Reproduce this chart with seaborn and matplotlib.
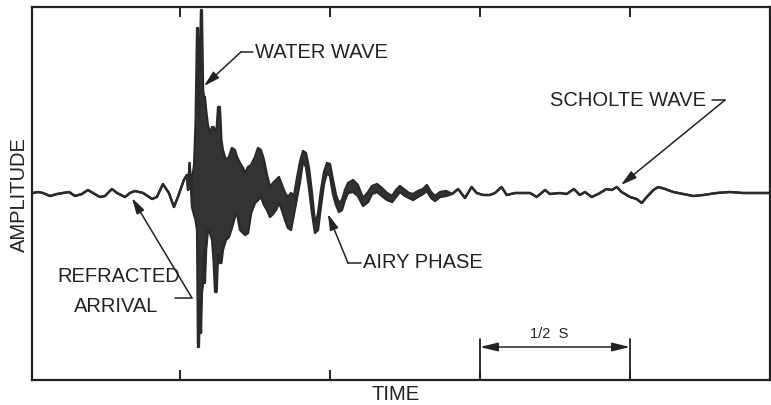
import matplotlib
matplotlib.use("Agg")
import matplotlib.pyplot as plt
import pandas as pd
import seaborn as sns
from matplotlib import font_manager

# Seismogram trace: time in seconds, amplitude in arbitrary trace units.
# Quiet lead-in before the arrivals (single line).
quiet_t = [0.010, 0.027, 0.043, 0.067, 0.090, 0.110, 0.130, 0.150, 0.173, 0.193,
           0.210, 0.233, 0.250, 0.273, 0.290, 0.317, 0.333, 0.350, 0.377, 0.407,
           0.423, 0.443, 0.463, 0.480, 0.493, 0.513, 0.523, 0.527, 0.532, 0.537]
quiet_amp = [-1, 0, -1, -4, -2, -1, 0, -4, -2, 2,
             -1, -5, -4, 3, -1, -5, -1, 1, -1, -7,
             -5, 8, -1, -15, -5, 12, 17, 2, 29, 2]

# Water wave and Airy phase: the record is a dense band, given as its
# upper and lower envelopes.
burst_t = [0.540, 0.547, 0.552, 0.557, 0.560, 0.563, 0.567, 0.570, 0.573, 0.577,
           0.580, 0.583, 0.587, 0.593, 0.600, 0.607, 0.612, 0.617, 0.622, 0.627,
           0.633, 0.638, 0.643, 0.653, 0.663, 0.673, 0.683, 0.690, 0.700, 0.710,
           0.717, 0.727, 0.737, 0.750, 0.760, 0.770, 0.780, 0.790, 0.800, 0.810,
           0.820, 0.830, 0.840, 0.850, 0.860, 0.870, 0.880, 0.890, 0.900, 0.910,
           0.920, 0.930, 0.940, 0.950, 0.960, 0.970, 0.980, 0.990, 1.000, 1.010,
           1.020, 1.030, 1.040, 1.050, 1.060, 1.077, 1.093, 1.110, 1.127, 1.140,
           1.157, 1.173, 1.190, 1.207, 1.220, 1.233, 1.250, 1.263, 1.277, 1.293,
           1.310, 1.323, 1.337, 1.350, 1.367, 1.387]
burst_hi = [12, 27, 69, 164, 164, 72, 132, 182, 182, 102,
            95, 95, 82, 67, 59, 65, 65, 62, 62, 85,
            85, 52, 42, 32, 35, 44, 42, 35, 29, 24,
            19, 25, 27, 35, 44, 42, 32, 17, 5, 9,
            12, 15, 7, -1, -5, -1, -4, 14, 30, 41,
            39, 24, -1, -31, -22, 2, 20, 29, 28, 12,
            -3, -11, -8, 2, 9, 12, 7, -6, 0, 6,
            8, 4, -1, -4, 2, 6, 2, -1, -2, 1,
            3, 7, 0, -4, 0, 1]
burst_lo = [-15, -23, -28, -38, -155, -155, -108, -141, -101, -91,
            -58, -91, -58, -38, -41, -48, -68, -100, -100, -63,
            -71, -71, -58, -48, -45, -36, -25, -21, -38, -41,
            -43, -41, -21, -11, -8, -5, -13, -18, -25, -22,
            -18, -11, -18, -28, -36, -38, -22, -6, 10, 31,
            25, 4, -21, -41, -38, -14, 8, 19, 16, -2,
            -13, -20, -18, -8, -1, 0, -4, -14, -10, -2,
            0, -4, -8, -10, -5, 0, -4, -6, -8, -5,
            -2, 1, -6, -9, -5, -4]

# Coda and Scholte wave (single line).
coda_t = [1.407, 1.427, 1.450, 1.472, 1.489, 1.510, 1.533, 1.550, 1.572, 1.589,
          1.617, 1.644, 1.667, 1.689, 1.717, 1.733, 1.767, 1.789, 1.813, 1.833,
          1.850, 1.872, 1.894, 1.922, 1.939, 1.956, 1.972, 2.000, 2.022, 2.039,
          2.056, 2.078, 2.094, 2.117, 2.144, 2.178, 2.211, 2.244, 2.289, 2.333,
          2.378, 2.422, 2.467]
coda_amp = [-2, 3, -6, 5, -1, -3, -3, -1, 5, -3,
            -1, -1, -1, -5, 2, -2, -1, -2, 3, -3,
            0, -5, -2, 3, 2, 5, 0, -5, -7, -11,
            -5, 2, 5, 3, 0, -2, -4, -3, -1, 0,
            -1, -1, -1]

tick_times = [0.5, 1.0, 1.5, 2.0]
half_second = (1.5, 2.0)

time = quiet_t + burst_t + coda_t
upper = quiet_amp + burst_hi + coda_amp
lower = quiet_amp + burst_lo + coda_amp
trace = pd.DataFrame({"time": time, "upper": upper, "lower": lower})

sns.set_theme(style="white")
installed = {f.name for f in font_manager.fontManager.ttflist}
main_font = "Liberation Sans" if "Liberation Sans" in installed else "DejaVu Sans"
plt.rcParams["font.family"] = [main_font, "DejaVu Sans"]

ink = "#222222"
W, H = 771, 405
fig = plt.figure(figsize=(W / 100, H / 100), dpi=100)
fig.patch.set_facecolor("white")
ax = fig.add_axes([32 / W, 25 / H, 738 / W, 373 / H])
ax.set_facecolor("white")

ax.fill_between(trace["time"], trace["lower"], trace["upper"],
                color="#333333", linewidth=0)
sns.lineplot(data=trace, x="time", y="upper", ax=ax, color="#2a2a2a",
             linewidth=1.7, sort=False, estimator=None)
sns.lineplot(data=trace, x="time", y="lower", ax=ax, color="#2a2a2a",
             linewidth=1.7, sort=False, estimator=None)

ax.set_xlim(0.0067, 2.4667)
ax.set_ylim(-188, 185)
ax.set_xticks(tick_times)
ax.set_yticks([])
ax.tick_params(axis="x", which="both", direction="in", length=7, width=1.4,
               color=ink, top=True, bottom=True, labelbottom=False,
               labeltop=False)
for side in ax.spines.values():
    side.set_visible(True)
    side.set_color(ink)
    side.set_linewidth(1.6)
ax.set_xlabel("")
ax.set_ylabel("")

label_kw = dict(color=ink, fontsize=14.5)
arrow_kw = dict(arrowstyle="-|>,head_length=0.8,head_width=0.22",
                color=ink, lw=1.1, shrinkA=0, shrinkB=0)

# WATER WAVE
ax.plot([0.703, 0.743], [140, 140], color=ink, lw=1.1)
ax.annotate("", xy=(0.580, 106), xytext=(0.703, 140), arrowprops=arrow_kw)
ax.text(0.750, 140, "WATER WAVE", ha="left", va="center", **label_kw)

# REFRACTED ARRIVAL
ax.plot([0.483, 0.540], [-106, -106], color=ink, lw=1.1)
ax.annotate("", xy=(0.340, -6), xytext=(0.540, -106), arrowprops=arrow_kw)
ax.text(0.295, -85, "REFRACTED", ha="center", va="center", **label_kw)
ax.text(0.288, -115, "ARRIVAL", ha="center", va="center", **label_kw)

# AIRY PHASE
ax.plot([1.060, 1.103], [-71, -71], color=ink, lw=1.1)
ax.annotate("", xy=(0.993, -22), xytext=(1.060, -71), arrowprops=arrow_kw)
ax.text(1.110, -71, "AIRY PHASE", ha="left", va="center", **label_kw)

# SCHOLTE WAVE
ax.plot([2.273, 2.317], [92, 92], color=ink, lw=1.1)
ax.annotate("", xy=(1.970, 7), xytext=(2.317, 92), arrowprops=arrow_kw)
ax.text(1.733, 92, "SCHOLTE WAVE", ha="left", va="center", **label_kw)

# half-second scale bar
for t in half_second:
    ax.plot([t, t], [-147, -188], color=ink, lw=1.3)
ax.annotate("", xy=(half_second[0], -155), xytext=(half_second[1], -155),
            arrowprops=dict(arrowstyle="<|-|>,head_length=0.9,head_width=0.22",
                            color=ink, lw=1.1, shrinkA=0, shrinkB=0))
ax.text(sum(half_second) / 2 - 0.02, -142, "1/2  S", ha="center", va="center",
        color=ink, fontsize=10.5)

fig.text(19.5 / W, 1 - 195 / H, "AMPLITUDE", rotation=90, ha="center",
         va="center", **label_kw)
fig.text(396 / W, 1 - 394 / H, "TIME", ha="center", va="center", **label_kw)

fig.savefig("out.png", dpi=100, facecolor="white")
